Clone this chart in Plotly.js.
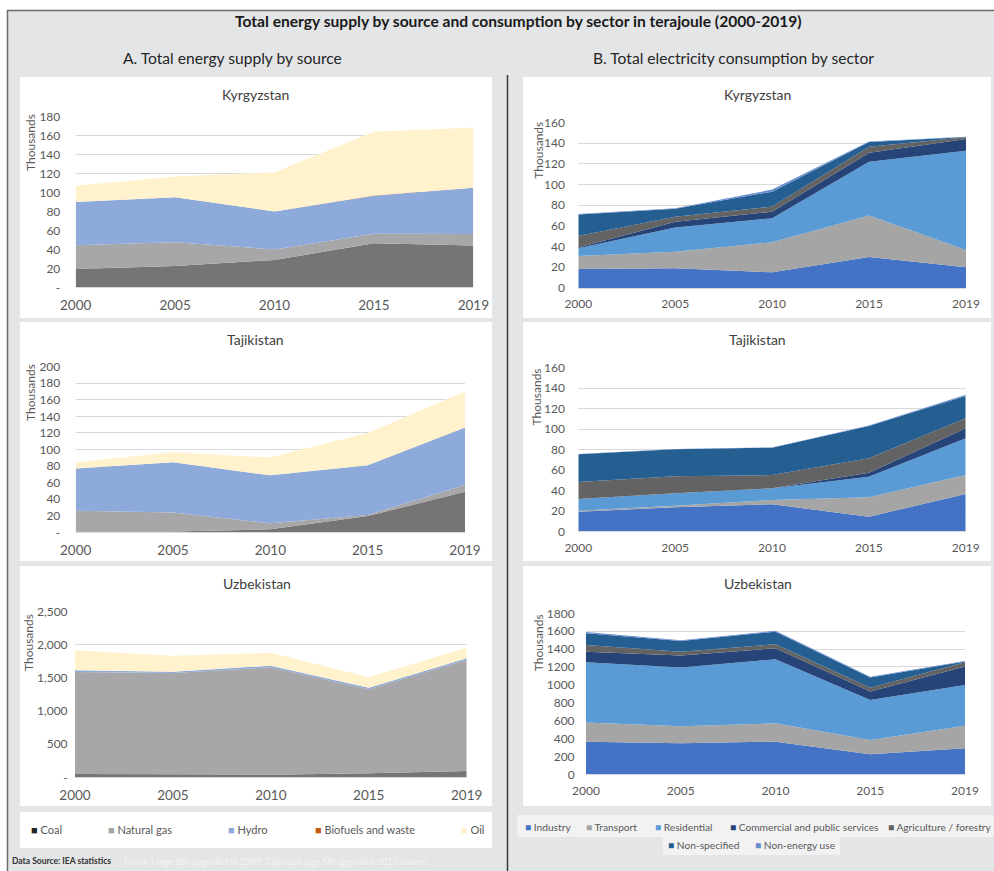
<!DOCTYPE html>
<html>
<head>
<meta charset="utf-8">
<script src="https://cdn.plot.ly/plotly-3.0.1.min.js"></script>
<style>
  html, body { margin: 0; padding: 0; background: #ffffff; }
  #chart { width: 994px; height: 871px; }
</style>
</head>
<body>
<div id="chart"></div>
<script>
// Years on the category axis
const years = ['2000', '2005', '2010', '2015', '2019'];

// A. Total energy supply by source (thousand TJ)
const supplyNames = ['Coal', 'Natural gas', 'Hydro', 'Biofuels and waste', 'Oil'];
const kgzCoal = [19.3, 22.5, 28.8, 46.4, 44.0];
const kgzGas = [25.0, 25.0, 11.2, 10.2, 12.3];
const kgzHydro = [45.7, 47.5, 40.0, 40.1, 48.7];
const kgzBio = [0.1, 0.1, 0.1, 0.1, 0.1];
const kgzOil = [17.0, 21.7, 41.3, 67.3, 63.4];

const tjkCoal = [1.0, 1.0, 3.6, 19.7, 49.0];
const tjkGas = [25.0, 23.0, 7.3, 1.3, 8.0];
const tjkHydro = [51.0, 60.5, 57.9, 59.9, 69.6];
const tjkBio = [0.0, 0.0, 0.0, 0.0, 0.0];
const tjkOil = [7.5, 12.1, 21.7, 39.1, 43.4];

const uzbCoal = [50, 45, 40, 60, 95];
const uzbGas = [1540, 1528, 1620, 1271, 1681];
const uzbHydro = [25, 22, 25, 22, 20];
const uzbBio = [0, 0, 0, 0, 0];
const uzbOil = [302, 241, 196, 156, 161];

// B. Total electricity consumption by sector (thousand TJ)
const sectorNames = ['Industry', 'Transport', 'Residential', 'Commercial and public services',
  'Agriculture / forestry', 'Non-specified', 'Non-energy use'];
const kgzIndustry = [18.4, 19.0, 15.1, 30.0, 20.0];
const kgzTransport = [12.5, 16.0, 29.0, 39.9, 16.7];
const kgzResidential = [7.4, 23.3, 23.2, 52.1, 95.9];
const kgzCommercial = [0.7, 5.7, 6.4, 8.7, 11.3];
const kgzAgriculture = [11.2, 4.9, 4.9, 5.8, 1.6];
const kgzNonSpecified = [20.8, 7.7, 14.4, 4.5, 0.3];
const kgzNonEnergy = [0.5, 0.4, 2.0, 0.5, 0.2];

const tjkIndustry = [19.2, 23.5, 26.4, 14.3, 36.5];
const tjkTransport = [1.0, 1.5, 4.2, 18.9, 18.5];
const tjkResidential = [11.4, 12.3, 11.4, 20.2, 35.9];
const tjkCommercial = [0.0, 0.0, 0.0, 3.9, 9.8];
const tjkAgriculture = [16.6, 16.6, 13.0, 14.1, 9.8];
const tjkNonSpecified = [27.1, 26.4, 26.8, 31.6, 21.8];
const tjkNonEnergy = [0.2, 0.2, 0.2, 0.5, 1.2];

const uzbIndustry = [365, 347, 365, 224, 291];
const uzbTransport = [213, 190, 205, 160, 253];
const uzbResidential = [674, 656, 716, 447, 455];
const uzbCommercial = [119, 134, 123, 94, 205];
const uzbAgriculture = [75, 44, 45, 44, 48];
const uzbNonSpecified = [131, 120, 141, 112, 8];
const uzbNonEnergy = [13, 9, 10, 9, 8];

// Y tick labels
const tickSmall180 = [0, 20, 40, 60, 80, 100, 120, 140, 160, 180];
const tickSmall180Text = ['-', '20', '40', '60', '80', '100', '120', '140', '160', '180'];
const tickSmall200 = [0, 20, 40, 60, 80, 100, 120, 140, 160, 180, 200];
const tickSmall200Text = ['-', '20', '40', '60', '80', '100', '120', '140', '160', '180', '200'];
const tickLarge = [0, 500, 1000, 1500, 2000, 2500];
const tickLargeText = ['-', '500', '1,000', '1,500', '2,000', '2,500'];

// ---- styling and layout ----
const supplyColors = ['#767474', '#a7a7a9', '#8eaadb', '#c55a11', '#fff2cc'];
const supplyLegendColors = ['#262626', '#a5a5a5', '#8eaadb', '#c55a11', '#fff2cc'];
const sectorColors = ['#4472c4', '#a5a5a5', '#5b9bd5', '#264478', '#636363', '#255e91', '#698ed0'];

const W = 994, H = 871;
const fx = x => x / W;
const fy = y => 1 - y / H;
const FONT = 'Lato, "Open Sans", sans-serif';
const TXT = '#595959';

const panels = [
  // left column
  { ax: '', x0: 75.7, x1: 473.3, yTop: 116.7, yBot: 287.3, max: 180, tv: tickSmall180, tt: tickSmall180Text,
    series: [kgzCoal, kgzGas, kgzHydro, kgzBio, kgzOil], colors: supplyColors, names: supplyNames,
    title: 'Kyrgyzstan', tx: 255, ty: 95, ux: 30, uy: 143, yLen: 12, xFont: 13.5, xLen: 5 },
  { ax: '2', x0: 75.7, x1: 465, yTop: 366.7, yBot: 532.3, max: 200, tv: tickSmall200, tt: tickSmall200Text,
    series: [tjkCoal, tjkGas, tjkHydro, tjkBio, tjkOil], colors: supplyColors, names: supplyNames,
    title: 'Tajikistan', tx: 255, ty: 339, ux: 30, uy: 393, yLen: 12, xFont: 13.5, xLen: 5 },
  { ax: '3', x0: 75, x1: 466.7, yTop: 611.7, yBot: 777.3, max: 2500, tv: tickLarge, tt: tickLargeText,
    series: [uzbCoal, uzbGas, uzbHydro, uzbBio, uzbOil], colors: supplyColors, names: supplyNames,
    title: 'Uzbekistan', tx: 256.7, ty: 583.3, ux: 28, uy: 643, yLen: 4, xFont: 13.5, xLen: 5 },
  // right column
  { ax: '4', x0: 578.3, x1: 966, yTop: 122.3, yBot: 288, max: 160, dtick: 20,
    series: [kgzIndustry, kgzTransport, kgzResidential, kgzCommercial, kgzAgriculture, kgzNonSpecified, kgzNonEnergy],
    colors: sectorColors, names: sectorNames, title: 'Kyrgyzstan', tx: 757.3, ty: 95, ux: 537.7, uy: 150,
    yLen: 10, xFont: 12, xLen: 5 },
  { ax: '5', x0: 578.3, x1: 965.7, yTop: 367.7, yBot: 531.3, max: 160, dtick: 20,
    series: [tjkIndustry, tjkTransport, tjkResidential, tjkCommercial, tjkAgriculture, tjkNonSpecified, tjkNonEnergy],
    colors: sectorColors, names: sectorNames, title: 'Tajikistan', tx: 757, ty: 339, ux: 536.7, uy: 396.7,
    yLen: 10, xFont: 12, xLen: 5 },
  { ax: '6', x0: 586, x1: 965, yTop: 613.3, yBot: 774.3, max: 1800, dtick: 200,
    series: [uzbIndustry, uzbTransport, uzbResidential, uzbCommercial, uzbAgriculture, uzbNonSpecified, uzbNonEnergy],
    colors: sectorColors, names: sectorNames, title: 'Uzbekistan', tx: 758, ty: 583, ux: 538.3, uy: 643,
    yLen: 8, xFont: 12, xLen: 5 }
];

const traces = [];
const layout = {
  width: W, height: H,
  margin: { l: 0, r: 0, t: 0, b: 0 },
  paper_bgcolor: '#ffffff',
  plot_bgcolor: 'rgba(0,0,0,0)',
  showlegend: false,
  font: { family: FONT, color: TXT },
  shapes: [],
  annotations: []
};

panels.forEach((p, i) => {
  const xa = 'x' + p.ax, ya = 'y' + p.ax;
  p.series.forEach((vals, k) => {
    traces.push({
      type: 'scatter', mode: 'none', x: years, y: vals, name: p.names[k],
      stackgroup: 'g' + i, fill: 'tonexty', fillcolor: p.colors[k],
      line: { width: 0 }, xaxis: xa, yaxis: ya, hoverinfo: 'skip'
    });
  });
  const xKey = 'xaxis' + p.ax, yKey = 'yaxis' + p.ax;
  layout[xKey] = {
    domain: [fx(p.x0), fx(p.x1)], anchor: ya, type: 'category', range: [0, 4],
    showgrid: false, showline: true, linecolor: '#d9d9d9', linewidth: 1, zeroline: false,
    ticks: 'outside', ticklen: p.xLen, tickcolor: 'rgba(0,0,0,0)',
    tickfont: { family: FONT, size: p.xFont, color: TXT }, fixedrange: true
  };
  const y = {
    domain: [fy(p.yBot), fy(p.yTop)], anchor: xa, range: [0, p.max],
    showgrid: true, gridcolor: '#d9d9d9', gridwidth: 1, showline: false, zeroline: false,
    ticks: 'outside', ticklen: p.yLen, tickcolor: 'rgba(0,0,0,0)',
    tickfont: { family: FONT, size: 12, color: TXT }, fixedrange: true
  };
  if (p.tv) { y.tickmode = 'array'; y.tickvals = p.tv; y.ticktext = p.tt; }
  else { y.tickmode = 'linear'; y.tick0 = 0; y.dtick = p.dtick; y.tickformat = 'd'; }
  layout[yKey] = y;

  layout.annotations.push({
    xref: 'paper', yref: 'paper', x: fx(p.tx), y: fy(p.ty), xanchor: 'center', yanchor: 'middle',
    text: p.title, showarrow: false, font: { family: FONT, size: 14, color: '#404040' }
  });
  layout.annotations.push({
    xref: 'paper', yref: 'paper', x: fx(p.ux), y: fy(p.uy), xanchor: 'center', yanchor: 'middle',
    text: 'Thousands', textangle: -90, showarrow: false, font: { family: FONT, size: 12, color: TXT }
  });
});

// page background, frame, white panels
function rect(x0, y0, x1, y1, fill, line) {
  layout.shapes.push({
    type: 'rect', xref: 'paper', yref: 'paper', layer: 'below',
    x0: fx(x0), x1: fx(x1), y0: fy(y1), y1: fy(y0),
    fillcolor: fill, line: line || { width: 0 }
  });
}
function seg(x0, y0, x1, y1, color, w) {
  layout.shapes.push({
    type: 'line', xref: 'paper', yref: 'paper', layer: 'below',
    x0: fx(x0), x1: fx(x1), y0: fy(y0), y1: fy(y1),
    line: { color: color, width: w }
  });
}
rect(7, 10, 994, 871, '#e4e5e7');
seg(7.5, 10, 7.5, 871, '#6b6b6b', 1.5);
seg(7, 10.5, 994, 10.5, '#6b6b6b', 1.5);
seg(507.5, 75, 507.5, 871, '#3a3a3a', 1.5);
// left column panels
rect(20, 77, 492, 318, '#ffffff');
rect(20, 322, 492, 561, '#ffffff');
rect(20, 566, 492, 806, '#ffffff');
rect(20, 812, 492, 848, '#ffffff');
// right column panels
rect(523, 77, 991, 318, '#ffffff');
rect(523, 322, 991, 561, '#ffffff');
rect(523, 566, 991, 806, '#ffffff');
rect(517, 815, 994, 837, '#f2f2f3');
rect(663, 837, 840, 855, '#f2f2f3');

// headings
function note(x, y, text, size, color, anchor, extra) {
  layout.annotations.push(Object.assign({
    xref: 'paper', yref: 'paper', x: fx(x), y: fy(y), xanchor: anchor || 'center', yanchor: 'middle',
    text: text, showarrow: false, font: { family: FONT, size: size, color: color }
  }, extra || {}));
}
note(518, 21, '<b>Total energy supply by source and consumption by sector in terajoule (2000-2019)</b>', 15.6, '#1a1a1a');
note(232, 58, 'A. Total energy supply by source', 15.6, '#262626');
note(733, 58, 'B. Total electricity consumption by sector', 15.6, '#262626');

// legend rows
const supplyLegendX = [29, 106, 226, 313, 459];
supplyNames.forEach((n, k) => {
  note(supplyLegendX[k], 829, '<span style="color:' + supplyLegendColors[k] + '">■</span> ' + n, 11, TXT, 'left');
});
const sectorLegendX = [523, 584, 653, 728, 886, 666, 753];
const sectorLegendY = [827, 827, 827, 827, 827, 845, 845];
sectorNames.forEach((n, k) => {
  note(sectorLegendX[k], sectorLegendY[k], '<span style="color:' + sectorColors[k] + '">■</span> ' + n, 10.2, TXT, 'left');
});

// source line
note(10, 861, '<b>Data Source: IEA statistics</b>', 8.5, '#333333', 'left');
note(122, 861, 'Pamir-1 (age 28) upgraded in 2005; Tajikistan (age 58) upgraded 2013 Source', 9, '#f4f4f5', 'left');

Plotly.newPlot('chart', traces, layout, { staticPlot: true, displayModeBar: false });
</script>
</body>
</html>
